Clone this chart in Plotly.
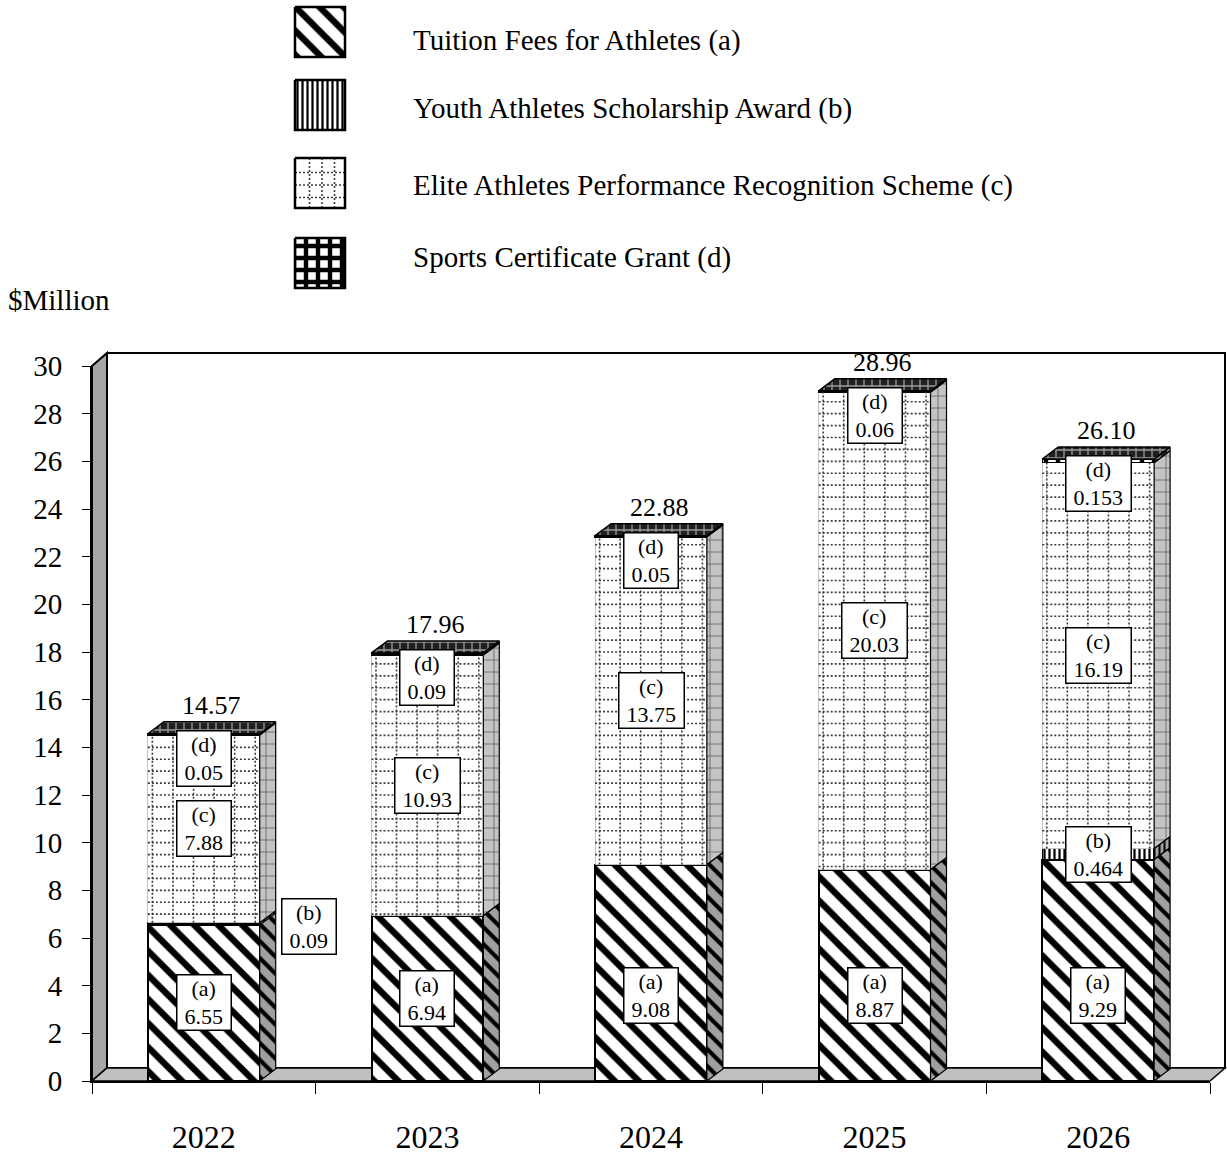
import plotly.graph_objects as go

# ---- data ($Million) ----
years = ["2022", "2023", "2024", "2025", "2026"]
tuition_fees = [6.55, 6.94, 9.08, 8.87, 9.29]            # (a)
youth_award = [0.09, 0.0, 0.0, 0.0, 0.464]              # (b)
elite_scheme = [7.88, 10.93, 13.75, 20.03, 16.19]       # (c)
cert_grant = [0.05, 0.09, 0.05, 0.06, 0.153]            # (d)

series_names = [
    "Tuition Fees for Athletes (a)",
    "Youth Athletes Scholarship Award (b)",
    "Elite Athletes Performance Recognition Scheme (c)",
    "Sports Certificate Grant (d)",
]
series_values = [tuition_fees, youth_award, elite_scheme, cert_grant]
y_ticks = list(range(0, 31, 2))

# ---- layout geometry (pixels) ----
FIG_W, FIG_H = 1227, 1155
PLOT_L, PLOT_R, PLOT_T, PLOT_B = 92, 1210, 366, 1081
WALL_DX, WALL_DY = 15, 13      # depth of the 3-D walls
BAR_DX, BAR_DY = 16, 12        # depth of each 3-D bar
BAR_W = 0.5
Y_MAX = 30
FONT = "Liberation Serif"

def px(xp):
    return xp / FIG_W

def py(yp):
    return 1 - yp / FIG_H

x_unit = 5 / (PLOT_R - PLOT_L)         # data units per pixel
y_unit = Y_MAX / (PLOT_B - PLOT_T)
ddx, ddy = BAR_DX * x_unit, BAR_DY * y_unit

# ---- styling of each series: front face pattern, side face pattern ----
GRID_GRAY = "#3c3c3c"
front_styles = [
    dict(shape="\\", fgcolor="black", bgcolor="white", size=17, solidity=0.38),
    dict(shape="|", fgcolor="black", bgcolor="white", size=5, solidity=0.45),
    dict(shape="", fgcolor=GRID_GRAY, bgcolor="white", size=12, solidity=0.1),
    dict(shape="+", fgcolor="black", bgcolor="white", size=12, solidity=0.6),
]
side_styles = [
    dict(shape="\\", fgcolor="black", bgcolor="#a0a0a0", size=12, solidity=0.35),
    dict(shape="|", fgcolor="black", bgcolor="#a0a0a0", size=5, solidity=0.4),
    dict(shape="+", fgcolor="#555555", bgcolor="#c4c4c4", size=12, solidity=0.12),
    dict(shape="+", fgcolor="#9a9a9a", bgcolor="#202020", size=8, solidity=0.3),
]
edge_styles = [
    dict(color="black", width=2),
    dict(color="black", width=1.5),
    dict(color="#888888", width=0.5),
    dict(color="black", width=1.5),
]

x_pos = list(range(len(years)))
fig = go.Figure()

# front faces: stacked bars
for vals, name, fs, es in zip(series_values, series_names, front_styles, edge_styles):
    fig.add_trace(go.Bar(
        x=x_pos, y=vals, name=name, width=BAR_W,
        marker=dict(color=fs["bgcolor"], pattern=dict(fillmode="replace", **fs), line=es),
        showlegend=False, hoverinfo="skip",
    ))

# cumulative bases of each segment
bases = []
run = [0.0] * len(years)
for vals in series_values:
    bases.append(run[:])
    run = [r + v for r, v in zip(run, vals)]
totals = run

# dotted grid on the front of (c)
GRID_STEP = 0.5
xs, ys = [], []
for i, v in enumerate(elite_scheme):
    b, t = bases[2][i], bases[2][i] + v
    xl, xr = i - BAR_W / 2, i + BAR_W / 2
    for k in range(6):
        gx = xl + BAR_W * (0.04 + 0.92 * k / 5)
        xs += [gx, gx, None]
        ys += [b, t, None]
    gy = (int(b / GRID_STEP) + 1) * GRID_STEP
    while gy < t - 0.1:
        xs += [xl, xr, None]
        ys += [gy, gy, None]
        gy += GRID_STEP
fig.add_trace(go.Scatter(
    x=xs, y=ys, mode="lines", line=dict(color=GRID_GRAY, width=1.6, dash="2px,2px"),
    showlegend=False, hoverinfo="skip",
))

# side faces of each segment
for k, vals in enumerate(series_values):
    xs, ys = [], []
    for i, v in enumerate(vals):
        if v <= 0:
            continue
        b, t = bases[k][i], bases[k][i] + v
        xr = i + BAR_W / 2
        xs += [xr, xr + ddx, xr + ddx, xr, xr, None]
        ys += [b, b + ddy, t + ddy, t, b, None]
    ss = side_styles[k]
    fig.add_trace(go.Scatter(
        x=xs, y=ys, mode="lines", fill="toself",
        fillcolor=ss["bgcolor"], fillpattern=dict(fillmode="replace", **ss),
        line=dict(color="black", width=1.2),
        showlegend=False, hoverinfo="skip",
    ))

# top faces (top segment of every bar)
xs, ys = [], []
for i, t in enumerate(totals):
    xl, xr = i - BAR_W / 2, i + BAR_W / 2
    xs += [xl, xl + ddx, xr + ddx, xr, xl, None]
    ys += [t, t + ddy, t + ddy, t, t, None]
ts = side_styles[3]
fig.add_trace(go.Scatter(
    x=xs, y=ys, mode="lines", fill="toself",
    fillcolor=ts["bgcolor"], fillpattern=dict(fillmode="replace", **ts),
    line=dict(color="black", width=1.5),
    showlegend=False, hoverinfo="skip",
))

# ---- legend swatches drawn on a pixel-based overlay axis ----
LEG_X0, LEG_SIZE = 295, 50
leg_tops = [7, 80, 158, 238]
leg_text_y = [40, 108, 185, 258]
for k in range(4):
    y0 = leg_tops[k]
    fs = front_styles[k]
    sq_x = [LEG_X0, LEG_X0 + LEG_SIZE, LEG_X0 + LEG_SIZE, LEG_X0, LEG_X0]
    sq_y = [y0, y0, y0 + LEG_SIZE, y0 + LEG_SIZE, y0]
    if k == 2:
        # dotted grid inside the (c) swatch
        gxs, gys = [], []
        for j in range(1, 4):
            gx = LEG_X0 + j * LEG_SIZE / 4 + 2
            gxs += [gx, gx, None]
            gys += [y0, y0 + LEG_SIZE, None]
            gy = y0 + j * LEG_SIZE / 4 + 2
            gxs += [LEG_X0, LEG_X0 + LEG_SIZE, None]
            gys += [gy, gy, None]
        fig.add_trace(go.Scatter(
            x=gxs, y=gys, mode="lines", line=dict(color=GRID_GRAY, width=1.6, dash="2px,2px"),
            xaxis="x2", yaxis="y2", showlegend=False, hoverinfo="skip",
        ))
        fig.add_trace(go.Scatter(
            x=sq_x, y=sq_y, mode="lines", line=dict(color="black", width=2.5),
            xaxis="x2", yaxis="y2", showlegend=False, hoverinfo="skip",
        ))
        continue
    fig.add_trace(go.Scatter(
        x=sq_x, y=sq_y, mode="lines", fill="toself", fillcolor="white",
        fillpattern=dict(fillmode="replace", **fs),
        line=dict(color="black", width=2.5),
        xaxis="x2", yaxis="y2", showlegend=False, hoverinfo="skip",
    ))

# ---- 3-D walls and floor ----
shapes = []
# back wall
shapes.append(dict(type="rect", xref="paper", yref="paper",
                   x0=px(PLOT_L + WALL_DX), x1=px(PLOT_R + WALL_DX),
                   y0=py(PLOT_B - WALL_DY), y1=py(PLOT_T - WALL_DY),
                   fillcolor="white", line=dict(color="black", width=2), layer="below"))
def path(pts):
    return "M " + " L ".join(f"{px(a):.5f},{py(b):.5f}" for a, b in pts) + " Z"
# left side wall
shapes.append(dict(type="path", xref="paper", yref="paper",
                   path=path([(PLOT_L, PLOT_B), (PLOT_L, PLOT_T),
                              (PLOT_L + WALL_DX, PLOT_T - WALL_DY),
                              (PLOT_L + WALL_DX, PLOT_B - WALL_DY)]),
                   fillcolor="#a6a6a6", line=dict(color="black", width=2), layer="below"))
# floor
shapes.append(dict(type="path", xref="paper", yref="paper",
                   path=path([(PLOT_L, PLOT_B), (PLOT_L + WALL_DX, PLOT_B - WALL_DY),
                              (PLOT_R + WALL_DX, PLOT_B - WALL_DY), (PLOT_R, PLOT_B)]),
                   fillcolor="#c0c0c0", line=dict(color="black", width=1.5), layer="below"))

# ---- value label boxes ----
CHAR_EM = {".": 0.25, "(": 0.333, ")": 0.333, "a": 0.444, "b": 0.5, "c": 0.444, "d": 0.5}
LABEL_FS = 22

def text_w(s, fs):
    return sum(CHAR_EM.get(ch, 0.5) for ch in s) * fs

annotations = []
def label_box(x, y, tag, val, **kw):
    vt = f"{val:g}"
    w = max(text_w(tag, LABEL_FS), text_w(vt, LABEL_FS)) + 14
    a = dict(x=x, y=y, xref="x", yref="y", text=f"{tag}<br>{vt}", showarrow=False,
             font=dict(family=FONT, size=LABEL_FS, color="black"),
             bgcolor="white", bordercolor="black", borderwidth=1.5, borderpad=0,
             width=w, align="center")
    a.update(kw)
    annotations.append(a)

for i in range(len(years)):
    a, b, c, d = (s[i] for s in series_values)
    label_box(i, min(a / 2, 3.6), "(a)", a)
    if b > 0:
        if b < 0.2:   # too thin to hold a box: place it beside the bar
            label_box(i + 0.47, bases[1][i] - 0.05, "(b)", b)
        else:
            label_box(i, bases[1][i] + b / 2, "(b)", b)
    label_box(i, bases[2][i] + c / 2, "(c)", c)
    label_box(i, totals[i], "(d)", d, yanchor="top", yshift=4)
    # total above each bar
    annotations.append(dict(x=i, y=totals[i], xref="x", yref="y", text=f"{totals[i]:.2f}",
                            showarrow=False, yanchor="bottom", yshift=12, xshift=8,
                            font=dict(family=FONT, size=26, color="black")))

# legend texts
for name, ty in zip(series_names, leg_text_y):
    annotations.append(dict(x=px(411), y=py(ty), xref="paper", yref="paper", text=name,
                            showarrow=False, xanchor="left", yanchor="middle",
                            font=dict(family=FONT, size=29, color="black")))
annotations.append(dict(x=px(6), y=py(300), xref="paper", yref="paper", text="$Million",
                        showarrow=False, xanchor="left", yanchor="middle",
                        font=dict(family=FONT, size=29, color="black")))

fig.update_layout(
    width=FIG_W, height=FIG_H, template="none",
    margin=dict(l=0, r=0, t=0, b=0),
    paper_bgcolor="white", plot_bgcolor="rgba(0,0,0,0)",
    barmode="stack", bargap=0.5, showlegend=False,
    shapes=shapes, annotations=annotations,
    xaxis=dict(domain=[px(PLOT_L), px(PLOT_R)], range=[-0.5, 4.5], automargin=False,
               tickvals=x_pos, ticktext=years, ticks="", showgrid=False, zeroline=False,
               showline=True, linecolor="black", linewidth=2,
               minor=dict(ticks="outside", tick0=-0.5, dtick=1, ticklen=11,
                          tickcolor="black", tickwidth=1, showgrid=False),
               tickfont=dict(family=FONT, size=32, color="black"), ticklabelstandoff=27,
               fixedrange=True),
    yaxis=dict(domain=[py(PLOT_B), py(PLOT_T)], range=[0, Y_MAX], automargin=False,
               tickvals=y_ticks, ticks="outside", ticklen=8, tickcolor="black", tickwidth=1,
               showgrid=False, zeroline=False, showline=True, linecolor="black", linewidth=2,
               tickfont=dict(family=FONT, size=29, color="black"), ticklabelstandoff=14,
               fixedrange=True),
    xaxis2=dict(domain=[0, 0.5], range=[0, 0.5 * FIG_W], anchor="y2", visible=False,
                fixedrange=True),
    yaxis2=dict(domain=[py(300), 1], range=[300, 0], anchor="x2", visible=False,
                fixedrange=True),
)

fig.write_html("out.html")
